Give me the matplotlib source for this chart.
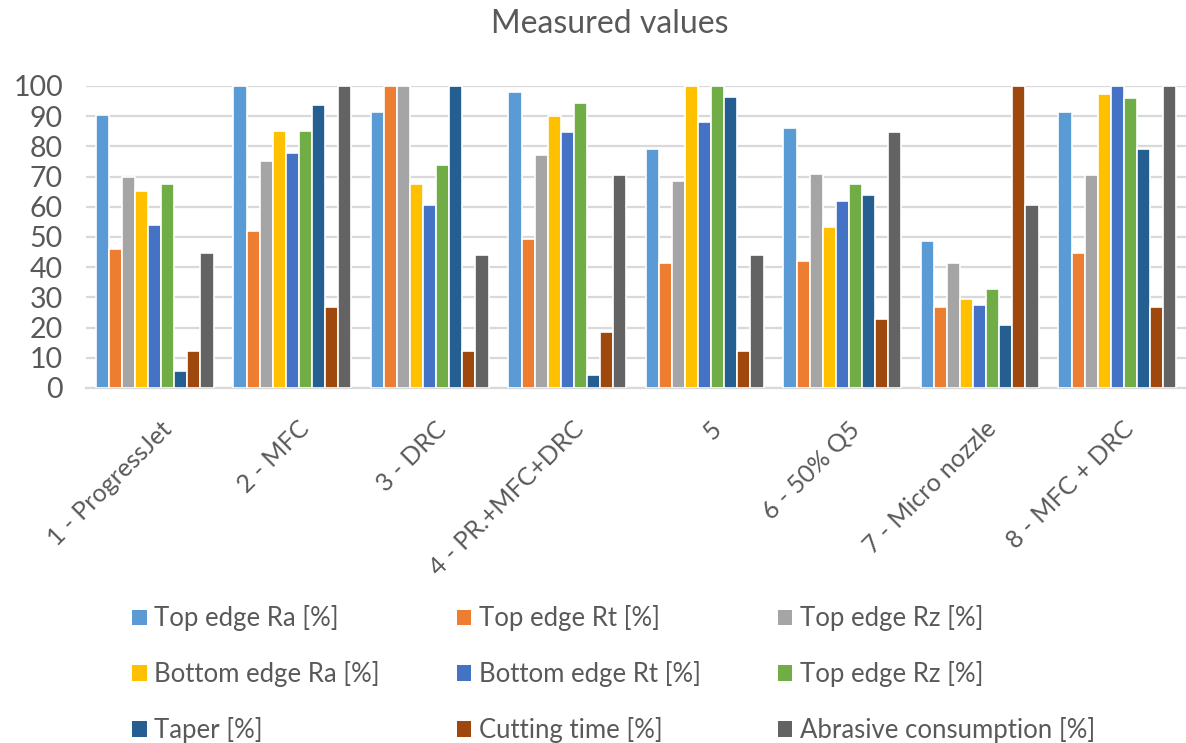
import numpy as np
import matplotlib
matplotlib.use("Agg")
import matplotlib.pyplot as plt
from matplotlib.patches import Patch
from matplotlib.transforms import ScaledTranslation

plt.rcParams['font.family'] = ['Lato', 'DejaVu Sans']

categories = ["1 - ProgressJet", "2 - MFC", "3 - DRC", "4 - PR.+MFC+DRC",
              "5", "6 - 50% Q5", "7 - Micro nozzle", "8 - MFC + DRC"]

series_names = ["Top edge Ra [%]", "Top edge Rt [%]", "Top edge Rz [%]",
                "Bottom edge Ra [%]", "Bottom edge Rt [%]", "Top edge Rz [%]",
                "Taper [%]", "Cutting time [%]", "Abrasive consumption [%]"]

top_ra = [90.3, 100, 91.5, 98.1, 79.0, 86.2, 48.6, 91.5]
top_rt = [46.0, 52.0, 100, 49.2, 41.3, 42.0, 26.8, 44.6]
top_rz = [70.0, 75.1, 100, 77.0, 68.4, 71.0, 41.3, 70.4]
bottom_ra = [65.2, 85.0, 67.7, 90.2, 100, 53.2, 29.4, 97.5]
bottom_rt = [54.0, 77.8, 60.5, 84.9, 88.2, 61.8, 27.4, 100]
top_rz_2 = [67.7, 85.0, 73.7, 94.2, 100, 67.7, 32.7, 96.1]
taper = [5.5, 93.6, 100, 4.3, 96.3, 63.8, 20.8, 79.0]
cutting_time = [12.1, 26.8, 12.1, 18.7, 12.1, 22.8, 100, 26.8]
abrasive = [44.6, 100, 43.9, 70.4, 43.9, 84.9, 60.5, 100]

colors = ["#5B9BD5", "#ED7D31", "#A5A5A5", "#FFC000", "#4472C4",
          "#70AD47", "#255E91", "#9E480E", "#636363"]

series = [top_ra, top_rt, top_rz, bottom_ra, bottom_rt, top_rz_2,
          taper, cutting_time, abrasive]

text_color = "#595959"
grid_color = "#D9D9D9"

fig = plt.figure(figsize=(11.86, 7.43), dpi=100)
ax = fig.add_axes([0.0725, 0.4778, 0.9275, 0.4065])

x = np.arange(len(categories))
slot = 0.095
n = len(series)
for i, (vals, col) in enumerate(zip(series, colors)):
    offs = (i - (n - 1) / 2) * slot
    ax.bar(x + offs, vals, width=slot, color=col, edgecolor="white",
           linewidth=1.2, zorder=3)

ax.set_xlim(-0.5, len(categories) - 0.5)
ax.set_ylim(0, 100)
ax.set_yticks(np.arange(0, 101, 10))
ax.yaxis.grid(True, color=grid_color, linewidth=1.6, zorder=0)
ax.set_axisbelow(True)
for s in ["top", "right", "left"]:
    ax.spines[s].set_visible(False)
ax.spines["bottom"].set_color(grid_color)
ax.spines["bottom"].set_linewidth(1.6)
ax.tick_params(axis="both", length=0, colors=text_color)
ax.tick_params(axis="y", labelsize=20.5, pad=16.5)

ax.set_xticks(x)
ax.set_xticklabels(categories, rotation=45, ha="right",
                   rotation_mode="anchor", fontsize=18, color=text_color)
ax.tick_params(axis="x", pad=21)
shift = ScaledTranslation(5 / 100, 0, fig.dpi_scale_trans)
for lab in ax.get_xticklabels():
    lab.set_transform(lab.get_transform() + shift)

fig.text(0.514, 1 - 33 / 743, "Measured values", ha="center", va="baseline",
         fontsize=23, color=text_color)

handles = [Patch(facecolor=c, edgecolor="none") for c in colors]
order = [0, 3, 6, 1, 4, 7, 2, 5, 8]
leg = fig.legend([handles[i] for i in order], [series_names[i] for i in order],
                 ncol=3, loc="upper left", bbox_to_anchor=(0.103, 0.199),
                 frameon=False, fontsize=18.5, labelcolor=text_color,
                 handlelength=0.55, handleheight=0.55, handletextpad=0.3,
                 columnspacing=3.0, labelspacing=1.16, borderaxespad=0)

fig.savefig("out.png", dpi=100)
